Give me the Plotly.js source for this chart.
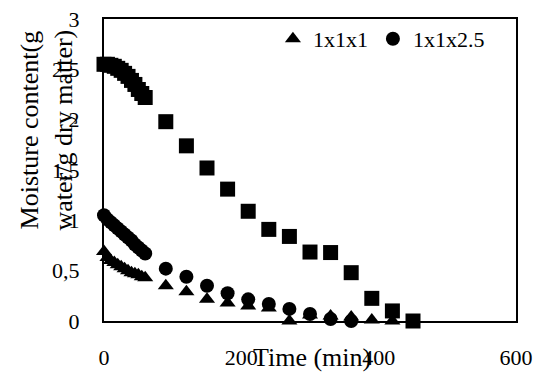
<!DOCTYPE html>
<html>
<head>
<meta charset="utf-8">
<script src="https://cdn.plot.ly/plotly-3.0.1.min.js"></script>
<style>html,body{margin:0;padding:0;background:#fff;}#chart{width:540px;height:372px;}</style>
</head>
<body>
<div id="chart"></div>
<script>
// Time (min)
var timeSquare = [0,5,10,15,20,25,30,35,40,45,50,55,60,90,120,150,180,210,240,270,300,330,360,390,420,450];
var moistSquare = [2.55,2.55,2.54,2.53,2.51,2.49,2.46,2.43,2.39,2.35,2.30,2.26,2.22,1.98,1.74,1.52,1.31,1.09,0.91,0.84,0.685,0.68,0.48,0.225,0.10,0.0];

var timeTri = [0,5,10,15,20,25,30,35,40,45,50,55,60,90,120,150,180,210,240,270,300,330,360,390,420];
var moistTri = [0.69,0.63,0.60,0.58,0.56,0.54,0.52,0.50,0.48,0.47,0.46,0.44,0.43,0.35,0.29,0.215,0.18,0.15,0.13,0.0,0.06,0.05,0.04,0.01,0.0];

var timeCirc = [0,5,10,15,20,25,30,35,40,45,50,55,60,90,120,150,180,210,240,270,300,330,360];
var moistCirc = [1.05,1.01,0.98,0.95,0.92,0.89,0.86,0.83,0.80,0.76,0.73,0.70,0.67,0.52,0.44,0.35,0.275,0.215,0.17,0.12,0.07,0.02,0.0];

var seriesNames = ['1x1x1', '1x1x2.5', '1x1x5'];
var xTickVals = [0, 200, 400, 600];
var yTickVals = [0, 0.5, 1, 1.5, 2, 2.5, 3];

var FONT = '"Liberation Serif", "Times New Roman", "DejaVu Serif", serif';

var traces = [
  {x: timeSquare, y: moistSquare, type: 'scatter', mode: 'markers', name: seriesNames[2],
   showlegend: false, cliponaxis: false,
   marker: {symbol: 'square', size: 15, color: '#000'}},
  {x: timeTri, y: moistTri, type: 'scatter', mode: 'markers', name: seriesNames[0],
   cliponaxis: false,
   marker: {symbol: 'triangle-up', size: 14, color: '#000'}},
  {x: timeCirc, y: moistCirc, type: 'scatter', mode: 'markers', name: seriesNames[1],
   cliponaxis: false,
   marker: {symbol: 'circle', size: 14, color: '#000'}}
];

var layout = {
  width: 540, height: 372,
  margin: {l: 104, r: 24, t: 19, b: 51},
  paper_bgcolor: '#fff', plot_bgcolor: '#fff',
  separators: ', ',
  font: {family: FONT, size: 22, color: '#000'},
  showlegend: true,
  legend: {orientation: 'h', x: 0.41, xanchor: 'left', y: 0.934, yanchor: 'middle',
           bgcolor: 'rgba(0,0,0,0)', font: {family: FONT, size: 22, color: '#000'},
           traceorder: 'normal'},
  xaxis: {range: [0, 600], tickvals: xTickVals, showgrid: false, zeroline: false,
          showline: true, linecolor: '#000', linewidth: 2, mirror: true,
          ticks: '', ticklabelstandoff: 16,
          tickfont: {family: FONT, size: 22, color: '#000'}},
  yaxis: {range: [0, 3], tickvals: yTickVals, showgrid: false, zeroline: false,
          showline: true, linecolor: '#000', linewidth: 2, mirror: true,
          ticks: '', ticklabelstandoff: 18,
          tickfont: {family: FONT, size: 22, color: '#000'}},
  annotations: [
    {text: 'Time (min)', xref: 'paper', yref: 'paper', x: 0.505, y: -0.12,
     xanchor: 'center', yanchor: 'middle', showarrow: false,
     font: {family: FONT, size: 26, color: '#000'}},
    {text: 'Moisture content(g<br>water/g dry matter)', xref: 'paper', yref: 'paper',
     x: -0.14, y: 0.632, xanchor: 'center', yanchor: 'middle', showarrow: false,
     textangle: -90, font: {family: FONT, size: 26, color: '#000'}}
  ]
};

Plotly.newPlot('chart', traces, layout, {displayModeBar: false, staticPlot: true});
</script>
</body>
</html>
